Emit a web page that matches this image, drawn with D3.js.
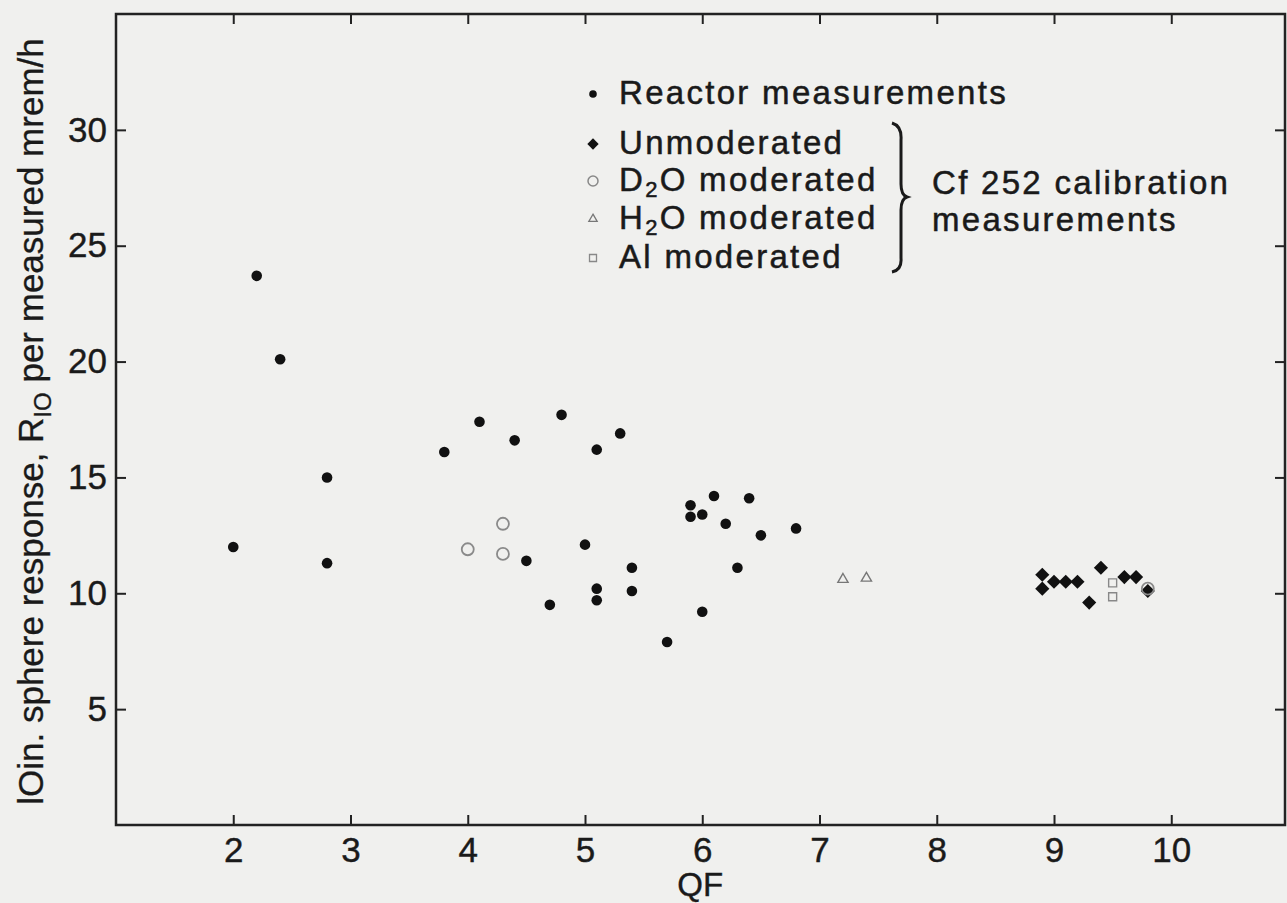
<!DOCTYPE html>
<html lang="en">
<head>
<meta charset="UTF-8">
<script src="https://cdnjs.cloudflare.com/ajax/libs/d3/7.8.5/d3.min.js"></script>
<style>
  body { margin: 0; background: #f0f0ee; }
  svg { display: block; font-family: "Liberation Sans", Arial, sans-serif; }
  .axis text { font-size: 35px; fill: #1a1a1a; stroke: #1a1a1a; stroke-width: 0.4px; }
  .axis line { stroke: #222; stroke-width: 2; }
  .legend text { font-size: 33px; fill: #1a1a1a; stroke: #1a1a1a; stroke-width: 0.5px; letter-spacing: 2.3px; }
</style>
<title>Sphere response vs QF</title>
</head>
<body>
<div id="chart"></div>
<script>
// reactor measurements [QF, R10]
const reactor = [
  [2.0, 12.0], [2.2, 23.7], [2.4, 20.1], [2.8, 15.0], [2.8, 11.3],
  [3.8, 16.1], [4.1, 17.4], [4.4, 16.6], [4.5, 11.4], [4.7, 9.5],
  [4.8, 17.7], [5.0, 12.1], [5.1, 16.2], [5.1, 10.2], [5.1, 9.7],
  [5.3, 16.9], [5.4, 11.1], [5.4, 10.1], [5.7, 7.9], [5.9, 13.8],
  [5.9, 13.3], [6.0, 13.4], [6.0, 9.2], [6.1, 14.2], [6.2, 13.0],
  [6.3, 11.1], [6.4, 14.1], [6.5, 12.5], [6.8, 12.8]
];
// Cf 252 calibration
const unmoderated = [
  [8.9, 10.8], [8.9, 10.2], [9.0, 10.5], [9.1, 10.5], [9.2, 10.5],
  [9.3, 9.6], [9.4, 11.1], [9.6, 10.7], [9.7, 10.7], [9.8, 10.1]
];
const d2o = [[4.0, 11.9], [4.3, 13.0], [4.3, 11.7], [9.8, 10.2]];
const h2o = [[7.2, 10.6], [7.4, 10.65]];
const al = [[9.5, 10.45], [9.5, 9.85]];

const xTicks = [2, 3, 4, 5, 6, 7, 8, 9, 10];
const yTicks = [5, 10, 15, 20, 25, 30];

const width = 1287, height = 903;
const x = d3.scaleLinear().domain([1, 10.97]).range([116, 1285]);
const y = d3.scaleLinear().domain([0, 35]).range([825, 14]);

const svg = d3.select('#chart').append('svg')
  .attr('width', width).attr('height', height);
svg.append('rect').attr('width', width).attr('height', height).attr('fill', '#f0f0ee');

// axes, ticks pointing inward on all four sides
svg.append('g').attr('class', 'axis')
  .attr('transform', `translate(0,${y(0)})`)
  .call(d3.axisBottom(x).tickValues(xTicks).tickSizeInner(-10).tickSizeOuter(0).tickPadding(12));
svg.append('g').attr('class', 'axis')
  .attr('transform', `translate(0,${y(35)})`)
  .call(d3.axisTop(x).tickValues(xTicks).tickSizeInner(-10).tickSizeOuter(0).tickFormat(''));
svg.append('g').attr('class', 'axis')
  .attr('transform', `translate(${x(1)},0)`)
  .call(d3.axisLeft(y).tickValues(yTicks).tickSizeInner(-10).tickSizeOuter(0).tickPadding(9));
svg.append('g').attr('class', 'axis')
  .attr('transform', `translate(${x(10.97)},0)`)
  .call(d3.axisRight(y).tickValues(yTicks).tickSizeInner(-10).tickSizeOuter(0).tickFormat(''));
svg.selectAll('.axis .domain').remove();

// frame
svg.append('rect')
  .attr('x', x(1)).attr('y', y(35))
  .attr('width', x(10.97) - x(1)).attr('height', y(0) - y(35))
  .attr('fill', 'none').attr('stroke', '#222').attr('stroke-width', 2.5);

// axis titles
svg.append('text')
  .attr('x', x(6) - 2).attr('y', 896)
  .attr('text-anchor', 'middle')
  .style('font-size', '33px').style('fill', '#1a1a1a')
  .style('stroke', '#1a1a1a').style('stroke-width', '0.4px')
  .text('QF');

const ylab = svg.append('text')
  .attr('transform', `translate(43,${(y(0) + y(35)) / 2 + 2}) rotate(-90)`)
  .attr('text-anchor', 'middle')
  .style('font-size', '35px').style('fill', '#1a1a1a')
  .style('stroke', '#1a1a1a').style('stroke-width', '0.3px');
ylab.append('tspan').text('lOin. sphere response, R');
ylab.append('tspan').attr('dy', 8).style('font-size', '24px').text('IO');
ylab.append('tspan').attr('dy', -8).text(' per measured mrem/h');

// marker drawers
const sq = d3.symbol().type(d3.symbolSquare);
const tri = d3.symbol().type(d3.symbolTriangle);

function drawReactor(g, pts, r) {
  g.selectAll(null).data(pts).enter().append('circle')
    .attr('cx', d => x(d[0])).attr('cy', d => y(d[1])).attr('r', r)
    .attr('fill', '#111');
}
function drawDiamond(g, pts, s) {
  g.selectAll(null).data(pts).enter().append('path')
    .attr('d', sq.size(s * s)())
    .attr('transform', d => `translate(${x(d[0])},${y(d[1])}) rotate(45)`)
    .attr('fill', '#111');
}
function drawCircle(g, pts, r) {
  g.selectAll(null).data(pts).enter().append('circle')
    .attr('cx', d => x(d[0])).attr('cy', d => y(d[1])).attr('r', r)
    .attr('fill', 'none').attr('stroke', '#8a8a8a').attr('stroke-width', 1.8);
}
function drawTri(g, pts, s) {
  g.selectAll(null).data(pts).enter().append('path')
    .attr('d', tri.size(s)())
    .attr('transform', d => `translate(${x(d[0])},${y(d[1])})`)
    .attr('fill', 'none').attr('stroke', '#777').attr('stroke-width', 1.4);
}
function drawSquare(g, pts, s) {
  g.selectAll(null).data(pts).enter().append('path')
    .attr('d', sq.size(s * s)())
    .attr('transform', d => `translate(${x(d[0])},${y(d[1])})`)
    .attr('fill', 'none').attr('stroke', '#888').attr('stroke-width', 1.4);
}

const marks = svg.append('g');
drawReactor(marks, reactor, 5.3);
drawDiamond(marks, unmoderated, 10);
drawCircle(marks, d2o, 6);
drawTri(marks, h2o, 45);
drawSquare(marks, al, 8);

// legend
const legendItems = [
  { label: 'Reactor measurements', kind: 'reactor' },
  { label: 'Unmoderated', kind: 'unmod' },
  { label: ['D', '2', 'O moderated'], kind: 'd2o' },
  { label: ['H', '2', 'O moderated'], kind: 'h2o' },
  { label: 'Al moderated', kind: 'al' }
];
const legendY = [104, 154, 191, 229, 268];
const legend = svg.append('g').attr('class', 'legend');
legendItems.forEach((item, i) => {
  const g = legend.append('g').attr('transform', `translate(593,${legendY[i]})`);
  const m = g.append('g').attr('transform', 'translate(0,-10)');
  if (item.kind === 'reactor') m.append('circle').attr('r', 3.8).attr('fill', '#111');
  if (item.kind === 'unmod') m.append('path').attr('d', sq.size(64)()).attr('transform', 'rotate(45)').attr('fill', '#111');
  if (item.kind === 'd2o') m.append('circle').attr('r', 5).attr('fill', 'none').attr('stroke', '#888').attr('stroke-width', 1.5);
  if (item.kind === 'h2o') m.append('path').attr('d', tri.size(30)()).attr('fill', 'none').attr('stroke', '#777').attr('stroke-width', 1.3);
  if (item.kind === 'al') m.append('path').attr('d', sq.size(49)()).attr('fill', 'none').attr('stroke', '#888').attr('stroke-width', 1.3);
  const t = g.append('text').attr('x', 26);
  if (typeof item.label === 'string') t.text(item.label);
  else {
    t.append('tspan').text(item.label[0]);
    t.append('tspan').attr('dy', 6).style('font-size', '22px').text(item.label[1]);
    t.append('tspan').attr('dy', -6).text(item.label[2]);
  }
});

// brace grouping the Cf 252 entries
legend.append('path')
  .attr('d', 'M892,123 Q902,126 901,140 L901,184 Q901,195 907,197 Q901,199 901,210 L901,258 Q902,270 892,272')
  .attr('fill', 'none').attr('stroke', '#1a1a1a').attr('stroke-width', 3);
legend.append('text').attr('x', 932).attr('y', 194).text('Cf 252 calibration');
legend.append('text').attr('x', 932).attr('y', 231).text('measurements');
</script>
</body>
</html>
